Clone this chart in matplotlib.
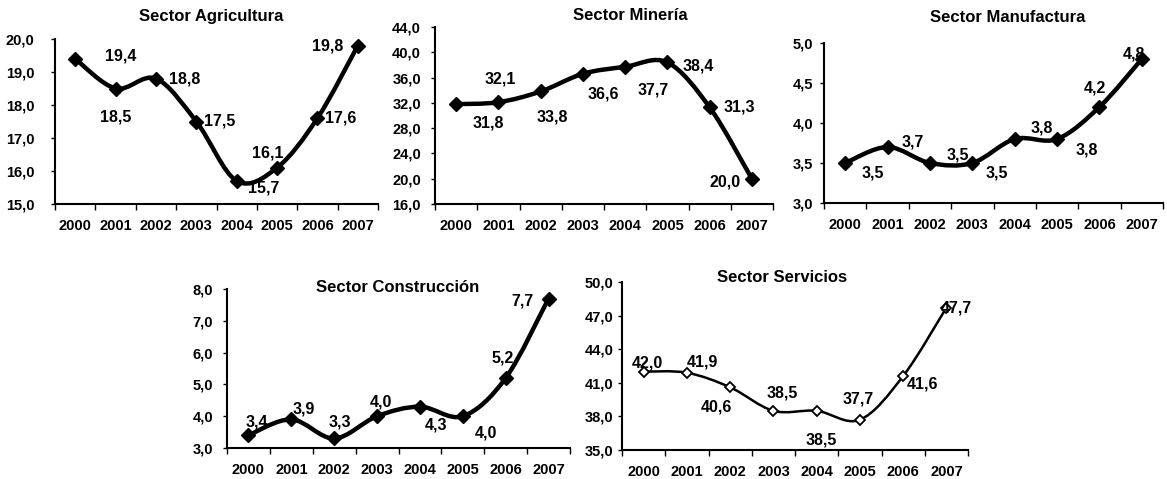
import numpy as np
import matplotlib
matplotlib.use("Agg")
import matplotlib.pyplot as plt
from matplotlib.path import Path
from matplotlib.patches import PathPatch

plt.rcParams['font.family'] = ['Liberation Sans', 'DejaVu Sans']

W, H = 1167, 479

years = ['2000', '2001', '2002', '2003', '2004', '2005', '2006', '2007']

agricultura = [19.4, 18.5, 18.8, 17.5, 15.7, 16.1, 17.6, 19.8]
mineria = [31.8, 32.1, 33.8, 36.6, 37.7, 38.4, 31.3, 20.0]
manufactura = [3.5, 3.7, 3.5, 3.5, 3.8, 3.8, 4.2, 4.8]
construccion = [3.4, 3.9, 3.3, 4.0, 4.3, 4.0, 5.2, 7.7]
servicios = [42.0, 41.9, 40.6, 38.5, 38.5, 37.7, 41.6, 47.7]

titles = ['Sector Agricultura', 'Sector Minería', 'Sector Manufactura',
          'Sector Construcción', 'Sector Servicios']
yticks_all = [
    [15, 16, 17, 18, 19, 20],
    [16, 20, 24, 28, 32, 36, 40, 44],
    [3.0, 3.5, 4.0, 4.5, 5.0],
    [3, 4, 5, 6, 7, 8],
    [35, 38, 41, 44, 47, 50],
]

# label offsets in pixels (dx right, dy down) from each point
offsets_all = [
    [(45, -3), (0, 29), (29, 0), (23, 0), (27, 7), (-9, -15), (23, 0), (-30, 0)],
    [(32, 19), (2, -23), (12, 26), (20, 20), (28, 23), (31, 4), (30, 0), (-27, 3)],
    [(28, 10), (25, -5), (28, -8), (25, 10), (27, -11), (30, 11), (-5, -19), (-8, -5)],
    [(8, -13), (12, -10), (6, -16), (4, -14), (16, 18), (23, 17), (-3, -20), (-26, 2)],
    [(4, -9), (16, -11), (-14, 20), (9, -18), (5, 29), (-2, -21), (19, 8), (10, 0)],
]

# axes boxes in pixels: left, right, top, bottom
boxes = [
    (55, 378, 39, 204),
    (435, 773, 27, 204),
    (824, 1163, 43, 203),
    (227, 570, 289, 448),
    (622, 968, 282, 450),
]
title_pos = [(211, 17), (630, 16), (1008, 17), (398, 287), (782, 278)]
ypads = [12, 7, 5, 7, 3]


def smooth_path(x, y):
    # cubic bezier through the points (catmull-rom style, tension 1/6)
    x = np.asarray(x, float)
    y = np.asarray(y, float)
    n = len(x)
    verts = [(x[0], y[0])]
    codes = [Path.MOVETO]
    for i in range(n - 1):
        i0 = max(i - 1, 0)
        i3 = min(i + 2, n - 1)
        c1 = (x[i] + (x[i + 1] - x[i0]) / 6, y[i] + (y[i + 1] - y[i0]) / 6)
        c2 = (x[i + 1] - (x[i3] - x[i]) / 6, y[i + 1] - (y[i3] - y[i]) / 6)
        verts += [c1, c2, (x[i + 1], y[i + 1])]
        codes += [Path.CURVE4] * 3
    return Path(verts, codes)


fig = plt.figure(figsize=(W / 100, H / 100), dpi=100)

series = [agricultura, mineria, manufactura, construccion, servicios]
for k, vals in enumerate(series):
    l, r, t, b = boxes[k]
    ax = fig.add_axes([l / W, 1 - b / H, (r - l) / W, (b - t) / H])
    xs = np.arange(len(years))
    hollow = (k == 4)
    lw = 1.8 if hollow else 3.2
    ax.add_patch(PathPatch(smooth_path(xs, vals), fill=False, lw=lw,
                           edgecolor='black', capstyle='round', joinstyle='round'))
    if hollow:
        ax.plot(xs, vals, linestyle='none', marker='D', ms=5.5, mfc='white',
                mec='black', mew=1.3)
    else:
        ax.plot(xs, vals, linestyle='none', marker='D', ms=7, mfc='black',
                mec='black')

    yt = yticks_all[k]
    ax.set_xlim(-0.5, len(years) - 0.5)
    ax.set_ylim(yt[0], yt[-1])
    ax.set_yticks(yt)
    ax.set_yticklabels([f'{v:.1f}'.replace('.', ',') for v in yt])
    ax.set_xticks(np.arange(-0.5, len(years)))
    ax.set_xticklabels([])
    ax.set_xticks(xs, minor=True)
    ax.set_xticklabels(years, minor=True)
    ax.tick_params(axis='x', which='major', length=4, width=1, direction='out')
    ax.tick_params(axis='x', which='minor', length=0, pad=11)
    ax.tick_params(axis='y', length=3, width=1, direction='out', pad=ypads[k])
    for lab in ax.get_xticklabels(minor=True) + ax.get_yticklabels():
        lab.set_fontsize(10.5)
        lab.set_fontweight('bold')
    for s in ['top', 'right']:
        ax.spines[s].set_visible(False)
    for s in ['left', 'bottom']:
        ax.spines[s].set_linewidth(1.5)
    ax.patch.set_alpha(0)

    for i, v in enumerate(vals):
        dx, dy = offsets_all[k][i]
        ax.annotate(f'{v:.1f}'.replace('.', ','), (i, v),
                    xytext=(dx * 0.72, -dy * 0.72), textcoords='offset points',
                    ha='center', va='center', fontsize=11.5, fontweight='bold')

    tx, ty = title_pos[k]
    fig.text(tx / W, 1 - ty / H, titles[k], ha='center', va='center',
             fontsize=12, fontweight='bold')

fig.savefig('out.png', dpi=100, facecolor='white')
